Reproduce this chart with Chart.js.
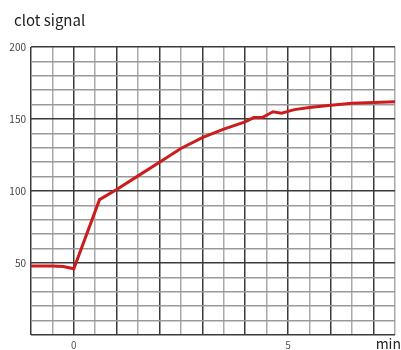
<!DOCTYPE html>
<html>
<head>
<meta charset="utf-8">
<script src="https://cdn.jsdelivr.net/npm/chart.js@4/dist/chart.umd.min.js"></script>
<style>
    html, body { margin: 0; padding: 0; background: #fff; }
    #wrap { width: 401px; height: 350px; }
</style>
</head>
<body>
<div id="wrap"><canvas id="chart"></canvas></div>
<script>
// clot signal readings over time (min)
const times = [-1, -0.5, -0.25, 0, 0.6, 1, 1.5, 2, 2.5, 3, 3.5, 4, 4.2, 4.4, 4.65, 4.85, 5.15, 5.5, 6, 6.5, 7, 7.5];
const signal = [48, 48, 47.5, 46, 94, 101, 110.5, 120, 129.5, 137, 143, 148, 151, 151, 155, 154, 156.5, 158, 159.5, 161, 161.5, 162];
const xTickLabels = [0, 5];
const yTickLabels = [50, 100, 150, 200];

const FONT = '"Noto Sans CJK JP", "Noto Sans", sans-serif';

// Title and unit label drawn straight onto the canvas
const extraText = {
    id: 'extraText',
    afterDraw(chart) {
        const ctx = chart.ctx;
        ctx.save();
        ctx.fillStyle = '#222';
        ctx.font = '15px ' + FONT;
        ctx.textAlign = 'left';
        ctx.textBaseline = 'alphabetic';
        ctx.fillText('clot signal', 14, 26);
        ctx.font = '14px ' + FONT;
        ctx.textAlign = 'right';
        ctx.fillText('min', 401, 349);
        ctx.restore();
    }
};

new Chart(document.getElementById('chart'), {
    type: 'line',
    data: {
        datasets: [{
            data: times.map((t, i) => ({ x: t, y: signal[i] })),
            borderColor: '#cc1c1c',
            borderWidth: 3,
            pointRadius: 0,
            tension: 0,
            fill: false
        }]
    },
    options: {
        responsive: true,
        maintainAspectRatio: false,
        animation: false,
        layout: { padding: { top: 47, right: 6, left: 0, bottom: 0 } },
        plugins: { legend: { display: false }, tooltip: { enabled: false } },
        scales: {
            x: {
                type: 'linear',
                min: -1,
                max: 7.5,
                afterFit: s => { s.height = 15; },
                border: { display: false },
                grid: {
                    drawTicks: false,
                    color: c => Number.isInteger(c.tick.value) ? '#3a3a3a' : '#aaa',
                    lineWidth: 1.5
                },
                ticks: {
                    stepSize: 0.5,
                    autoSkip: false,
                    maxRotation: 0,
                    padding: 4,
                    color: '#555',
                    font: { family: FONT, size: 10 },
                    callback: v => xTickLabels.includes(v) ? String(v) : ''
                }
            },
            y: {
                min: 0,
                max: 200,
                afterFit: s => { s.width = 31; },
                border: { display: false },
                grid: {
                    drawTicks: false,
                    color: c => c.tick.value % 50 === 0 ? '#3a3a3a' : '#999',
                    lineWidth: 1.5
                },
                ticks: {
                    stepSize: 10,
                    autoSkip: false,
                    padding: 5,
                    color: '#444',
                    font: { family: FONT, size: 10 },
                    callback: v => yTickLabels.includes(v) ? String(v) : ''
                }
            }
        }
    },
    plugins: [extraText]
});
</script>
</body>
</html>
